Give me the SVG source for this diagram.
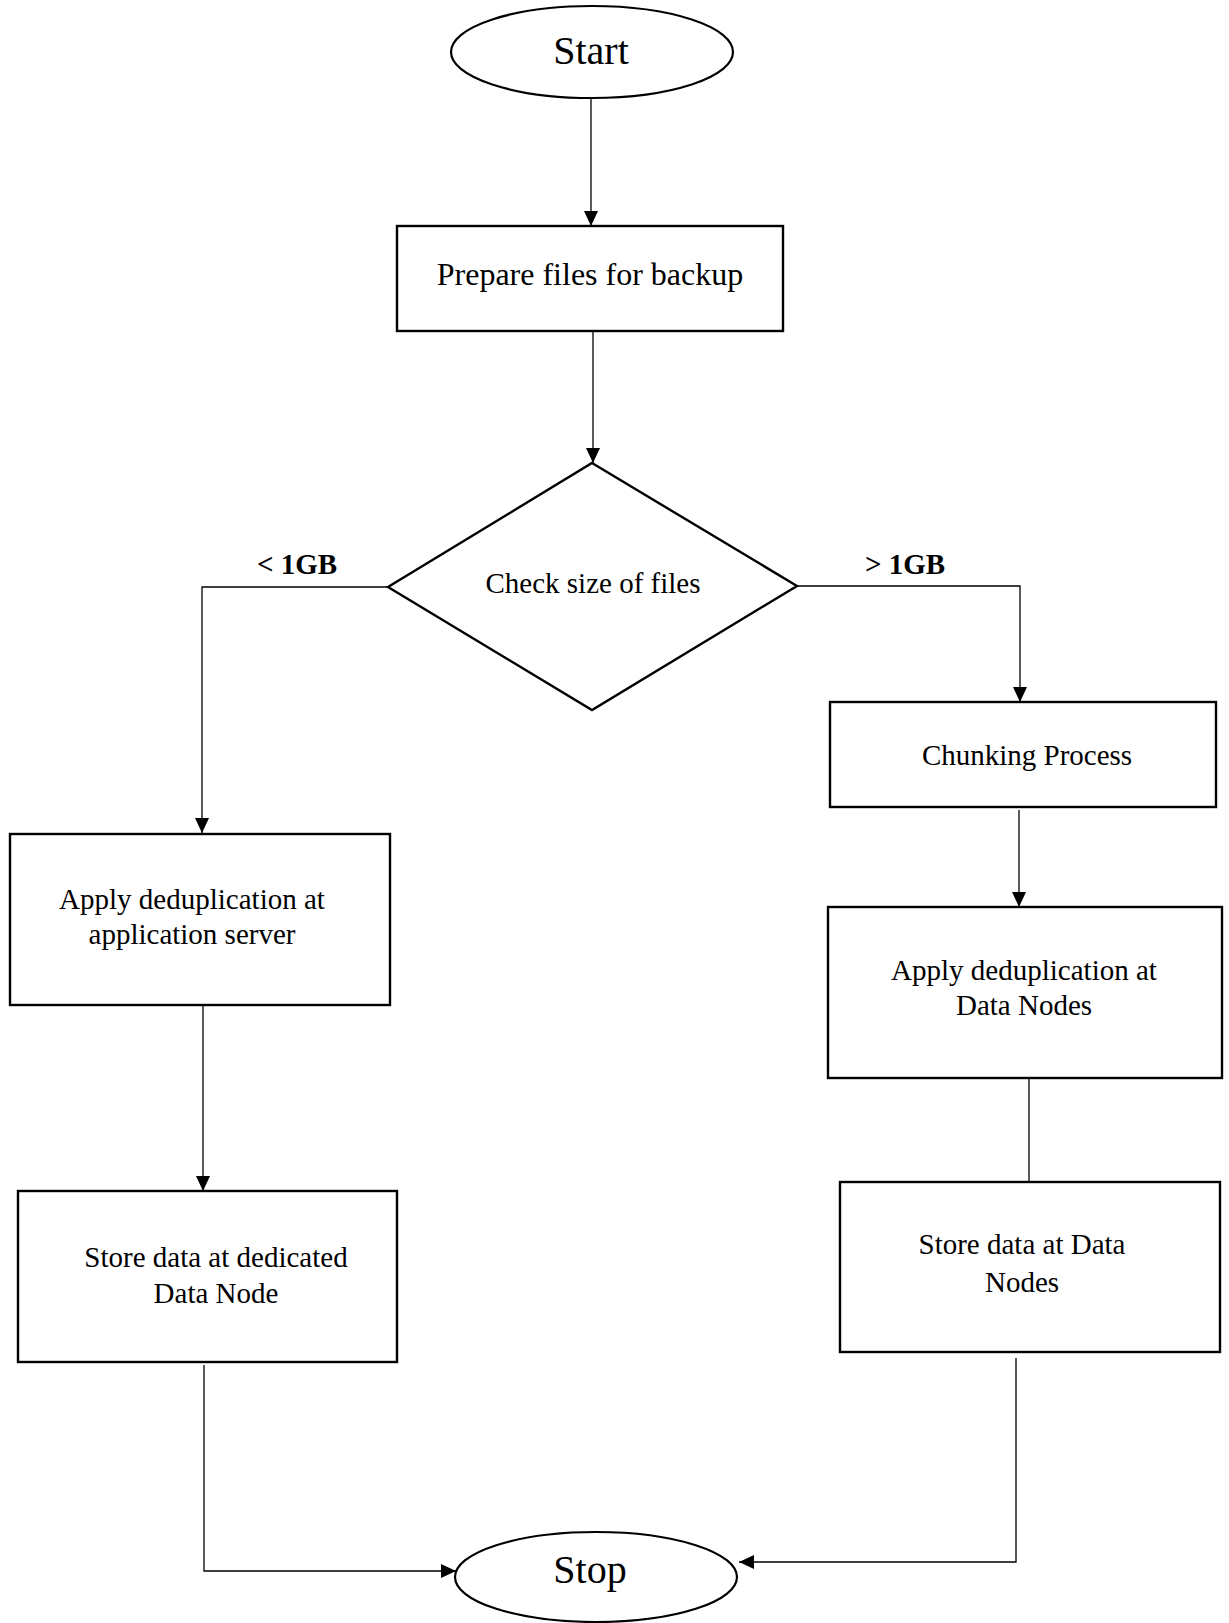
<svg xmlns="http://www.w3.org/2000/svg" width="1229" height="1623" viewBox="0 0 1229 1623">
<defs>
<marker id="arr" viewBox="0 0 15 14" refX="15" refY="7" markerWidth="15" markerHeight="14" markerUnits="userSpaceOnUse" orient="auto">
<path d="M0,0 L15,7 L0,14 Z" fill="#000"/>
</marker>
<style>
.box{fill:#fff;stroke:#000;stroke-width:2.4}
.term{fill:#fff;stroke:#000;stroke-width:2.2}
.t{font-family:"Liberation Serif","Times New Roman",serif;font-size:29px;fill:#000;text-anchor:middle}
.big{font-size:40px}
.mid{font-size:32px}
.lbl{font-weight:bold}
.c{fill:none;stroke:#000;stroke-width:1.3}
</style>
</defs>
<rect width="1229" height="1623" fill="#fff"/>
<g id="connectors">
<line class="c" x1="591" y1="98" x2="591" y2="226" marker-end="url(#arr)"/>
<line class="c" x1="593" y1="332" x2="593" y2="463" marker-end="url(#arr)"/>
<polyline class="c" points="388,587 202,587 202,833" marker-end="url(#arr)"/>
<polyline class="c" points="797,586 1020,586 1020,702" marker-end="url(#arr)"/>
<line class="c" x1="1019" y1="810" x2="1019" y2="907" marker-end="url(#arr)"/>
<line class="c" x1="203" y1="1006" x2="203" y2="1191" marker-end="url(#arr)"/>
<line class="c" x1="1029" y1="1079" x2="1029" y2="1182"/>
<polyline class="c" points="204,1365 204,1571 456,1571" marker-end="url(#arr)"/>
<polyline class="c" points="1016,1358 1016,1562 739,1562" marker-end="url(#arr)"/>
<text class="t lbl" x="297" y="574">&lt; 1GB</text>
<text class="t lbl" x="905" y="574">&gt; 1GB</text>
</g>
<g id="start">
<ellipse class="term" cx="592" cy="52" rx="141" ry="46"/>
<text class="t big" x="591" y="64">Start</text>
</g>
<g id="prepare">
<rect class="box" x="397" y="226" width="386" height="105"/>
<text class="t mid" x="590" y="285">Prepare files for backup</text>
</g>
<g id="check">
<polygon class="box" points="592,463 797,586 592,710 388,587"/>
<text class="t" x="593" y="593">Check size of files</text>
</g>
<g id="dedup-app">
<rect class="box" x="10" y="834" width="380" height="171"/>
<text class="t" x="192" y="909">Apply deduplication at</text>
<text class="t" x="192" y="944">application server</text>
</g>
<g id="store-dedicated">
<rect class="box" x="18" y="1191" width="379" height="171"/>
<text class="t" x="216" y="1267">Store data at dedicated</text>
<text class="t" x="216" y="1303">Data Node</text>
</g>
<g id="chunking">
<rect class="box" x="830" y="702" width="386" height="105"/>
<text class="t" x="1027" y="765">Chunking Process</text>
</g>
<g id="dedup-data">
<rect class="box" x="828" y="907" width="394" height="171"/>
<text class="t" x="1024" y="980">Apply deduplication at</text>
<text class="t" x="1024" y="1015">Data Nodes</text>
</g>
<g id="store-data">
<rect class="box" x="840" y="1182" width="380" height="170"/>
<text class="t" x="1022" y="1254">Store data at Data</text>
<text class="t" x="1022" y="1292">Nodes</text>
</g>
<g id="stop">
<ellipse class="term" cx="596" cy="1577" rx="141" ry="45"/>
<text class="t big" x="590" y="1583">Stop</text>
</g>
</svg>
